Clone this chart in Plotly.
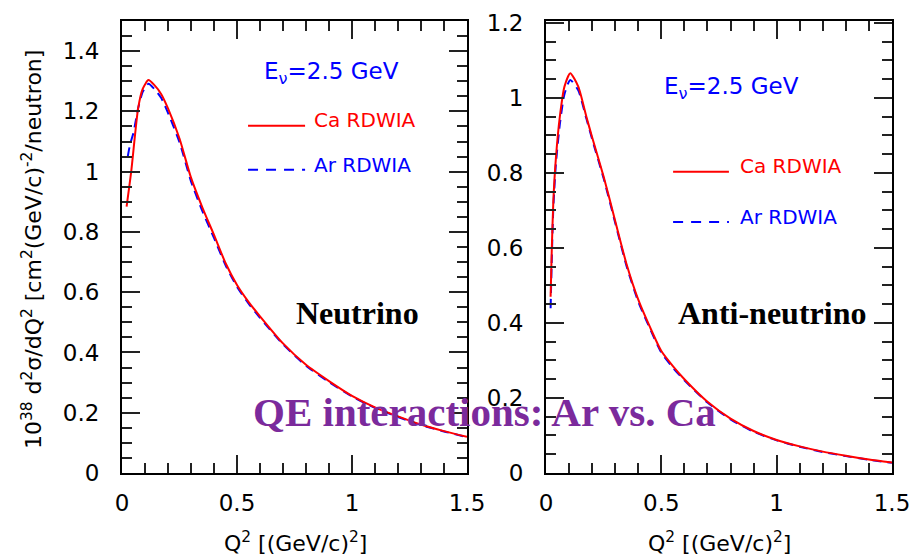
import plotly.graph_objects as go

# ---------------- data ----------------
nu_q2_ca = [0.02, 0.04, 0.07, 0.09, 0.115, 0.14, 0.17, 0.2, 0.25, 0.3, 0.35, 0.4, 0.45, 0.5, 0.55,
            0.6, 0.7, 0.8, 0.9, 1.0, 1.1, 1.2, 1.3, 1.4, 1.5]
nu_ca = [0.884, 1.0, 1.21, 1.275, 1.304, 1.288, 1.258, 1.21, 1.11, 0.98, 0.88, 0.79, 0.697, 0.624, 0.568,
         0.52, 0.43, 0.359, 0.305, 0.256, 0.218, 0.188, 0.161, 0.139, 0.120]

nu_q2_ar = [0.025, 0.035, 0.05, 0.07, 0.09, 0.115, 0.14, 0.17, 0.2, 0.25, 0.3, 0.35, 0.4, 0.45, 0.5, 0.55,
            0.6, 0.7, 0.8, 0.9, 1.0, 1.1, 1.2, 1.3, 1.4, 1.5]
nu_ar = [1.05, 1.09, 1.13, 1.21, 1.265, 1.292, 1.275, 1.245, 1.195, 1.098, 0.968, 0.868, 0.78, 0.69, 0.618, 0.563,
         0.515, 0.427, 0.356, 0.302, 0.254, 0.216, 0.186, 0.159, 0.138, 0.119]

anu_q2 = [0.02, 0.025, 0.032, 0.043, 0.06, 0.08, 0.105, 0.14, 0.175, 0.2, 0.25, 0.3, 0.35, 0.4,
          0.45, 0.5, 0.55, 0.6, 0.7, 0.8, 0.9, 1.0, 1.1, 1.2, 1.3, 1.4, 1.5]
anu_ca = [0.47, 0.595, 0.728, 0.84, 0.95, 1.03, 1.066, 1.03, 0.95, 0.895, 0.79, 0.672, 0.555, 0.462,
          0.39, 0.325, 0.285, 0.25, 0.19, 0.145, 0.112, 0.088, 0.071, 0.057, 0.046, 0.036, 0.028]
anu_ar = [0.439, 0.57, 0.71, 0.825, 0.93, 1.01, 1.048, 1.02, 0.945, 0.89, 0.785, 0.667, 0.55, 0.457,
          0.386, 0.321, 0.281, 0.247, 0.188, 0.143, 0.110, 0.087, 0.070, 0.056, 0.045, 0.035, 0.027]

x_ticks = [0, 0.5, 1, 1.5]
x_ticklabels = ["0", "0.5", "1", "1.5"]
y1_ticks = [0, 0.2, 0.4, 0.6, 0.8, 1.0, 1.2, 1.4]
y1_ticklabels = ["0", "0.2", "0.4", "0.6", "0.8", "1", "1.2", "1.4"]
y2_ticks = [0, 0.2, 0.4, 0.6, 0.8, 1.0, 1.2]
y2_ticklabels = ["0", "0.2", "0.4", "0.6", "0.8", "1", "1.2"]

RED = "#ff0000"
BLUE = "#0000ff"
PURPLE = "#7b2a9c"
SANS = "DejaVu Sans"
SERIF = "Liberation Serif"

fig = go.Figure()

def add_curve(x, y, color, dash, xa, ya):
    fig.add_trace(go.Scatter(
        x=x, y=y, mode="lines", xaxis=xa, yaxis=ya, showlegend=False,
        line=dict(color=color, width=2, dash=dash, shape="spline", smoothing=0.6),
        hoverinfo="skip"))

add_curve(nu_q2_ar, nu_ar, BLUE, "9px,6px", "x", "y")
add_curve(nu_q2_ca, nu_ca, RED, "solid", "x", "y")
add_curve(anu_q2, anu_ar, BLUE, "9px,6px", "x2", "y2")
add_curve(anu_q2, anu_ca, RED, "solid", "x2", "y2")

W, H = 911, 558
def px_x(p):
    return p / W
def px_y(p):
    return 1 - p / H

def axis(domain, rng, anchor, tickvals, ticktext, standoff, minor_dtick):
    return dict(
        domain=domain, range=rng, anchor=anchor, automargin=False,
        tickmode="array", tickvals=tickvals, ticktext=ticktext,
        ticklabelstandoff=standoff,
        showgrid=False, zeroline=False, showline=True, linecolor="#000", linewidth=2,
        mirror="allticks", ticks="inside", ticklen=18, tickwidth=2, tickcolor="#222",
        tickfont=dict(family=SANS, size=23, color="#000"),
        minor=dict(ticks="inside", ticklen=10, tickwidth=1.8, tickcolor="#222",
                   dtick=minor_dtick, tick0=0, showgrid=False),
    )

fig.update_layout(
    width=W, height=H, margin=dict(l=0, r=0, t=0, b=0, autoexpand=False),
    paper_bgcolor="white", plot_bgcolor="white",
    xaxis=axis([px_x(122), px_x(467)], [0, 1.5], "y", x_ticks, x_ticklabels, 8, 0.1),
    yaxis=axis([px_y(473), px_y(21)], [0, 1.5], "x", y1_ticks, y1_ticklabels, 16, 0.05),
    xaxis2=axis([px_x(546), px_x(892)], [0, 1.5], "y2", x_ticks, x_ticklabels, 8, 0.1),
    yaxis2=axis([px_y(473), px_y(21)], [0, 1.205], "x2", y2_ticks, y2_ticklabels, 16, 0.05),
)

ann = []
# axis titles
ann.append(dict(xref="paper", yref="paper", x=px_x(32), y=px_y(250), textangle=-90,
                text="10<sup>38</sup> d<sup>2</sup>σ/dQ<sup>2</sup> [cm<sup>2</sup>(GeV/c)<sup>-2</sup>/neutron]",
                showarrow=False, font=dict(family=SANS, size=22, color="#000"),
                xanchor="center", yanchor="middle"))
for cx in (295, 719):
    ann.append(dict(xref="paper", yref="paper", x=px_x(cx), y=px_y(542),
                    text="Q<sup>2</sup> [(GeV/c)<sup>2</sup>]", showarrow=False,
                    font=dict(family=SANS, size=22, color="#000"),
                    xanchor="center", yanchor="middle"))

def panel_text(xa, ya, x, y, text, color, size, family=SANS, xanchor="center"):
    ann.append(dict(xref=xa, yref=ya, x=x, y=y, text=text, showarrow=False,
                    font=dict(family=family, size=size, color=color),
                    xanchor=xanchor, yanchor="middle"))

# left panel
panel_text("x", "y", 0.913, 1.328, "E<sub>ν</sub>=2.5 GeV", BLUE, 23)
panel_text("x", "y", 0.828, 1.172, "Ca RDWIA", RED, 20, xanchor="left")
panel_text("x", "y", 0.828, 1.022, "Ar RDWIA", BLUE, 20, xanchor="left")
panel_text("x", "y", 1.026, 0.531, "<b>Neutrino</b>", "#000", 32, family=SERIF)
# right panel
panel_text("x2", "y2", 0.806, 1.027, "E<sub>ν</sub>=2.5 GeV", BLUE, 23)
panel_text("x2", "y2", 0.832, 0.819, "Ca RDWIA", RED, 20, xanchor="left")
panel_text("x2", "y2", 0.832, 0.683, "Ar RDWIA", BLUE, 20, xanchor="left")
panel_text("x2", "y2", 0.98, 0.427, "<b>Anti-neutrino</b>", "#000", 32, family=SERIF)
# overall title
ann.append(dict(xref="paper", yref="paper", x=px_x(485), y=px_y(412),
                text="<b>QE interactions: Ar vs. Ca</b>", showarrow=False,
                font=dict(family=SERIF, size=41, color=PURPLE),
                xanchor="center", yanchor="middle"))
fig.update_layout(annotations=ann)

# legend sample lines
shapes = [
    dict(type="line", xref="x", yref="y", x0=0.548, x1=0.796, y0=1.152, y1=1.152,
         line=dict(color=RED, width=2)),
    dict(type="line", xref="x", yref="y", x0=0.548, x1=0.796, y0=1.006, y1=1.006,
         line=dict(color=BLUE, width=2, dash="10px,8px")),
    dict(type="line", xref="x2", yref="y2", x0=0.551, x1=0.793, y0=0.803, y1=0.803,
         line=dict(color=RED, width=2)),
    dict(type="line", xref="x2", yref="y2", x0=0.551, x1=0.793, y0=0.669, y1=0.669,
         line=dict(color=BLUE, width=2, dash="10px,8px")),
]
fig.update_layout(shapes=shapes)

fig.write_html("out.html")
